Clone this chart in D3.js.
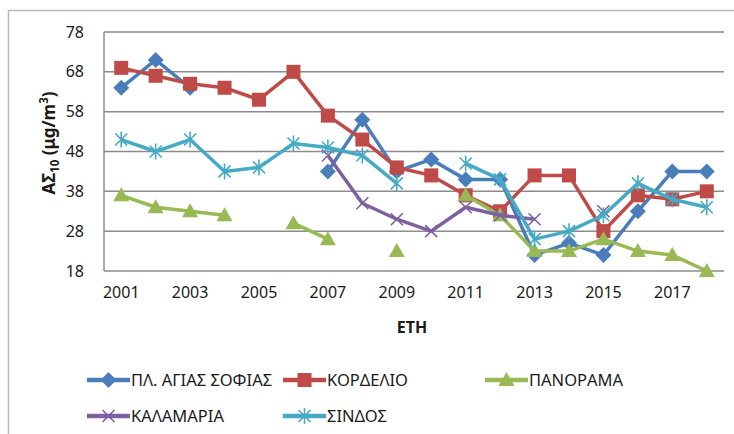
<!DOCTYPE html>
<html>
<head>
<meta charset="utf-8">
<title>ΑΣ10 ανά σταθμό</title>
<style>
body { margin: 0; background: #fff; }
#chart { width: 734px; height: 434px; }
text { font-family: "Noto Sans", "Open Sans", sans-serif; fill: #1a1a1a; }
.tick text { font-size: 16px; }
.legend text { font-size: 16.5px; }
</style>
</head>
<body>
<svg id="chart"></svg>
<script src="https://d3js.org/d3.v7.min.js"></script>
<script>

const years = d3.range(2001, 2019);
const yearLabels = [2001, 2003, 2005, 2007, 2009, 2011, 2013, 2015, 2017];
const yTicks = [18, 28, 38, 48, 58, 68, 78];

// τιμές ανά σταθμό (null = δεν υπάρχει μέτρηση)
const agiasSofias = [64, 71, 64, null, null, null, 43, 56, 43, 46, 41, 41, 22, 25, 22, 33, 43, 43];
const kordelio    = [69, 67, 65, 64, 61, 68, 57, 51, 44, 42, 37, 33, 42, 42, 28, 37, 36, 38];
const panorama    = [37, 34, 33, 32, null, 30, 26, null, 23, null, 37, 32, 23, 23, 26, 23, 22, 18];
const kalamaria   = [null, null, null, null, null, null, 47, 35, 31, 28, 34, 32, 31, null, 33, null, null, null];
const sindos      = [51, 48, 51, 43, 44, 50, 49, 47, 40, null, 45, 41, 26, 28, 32, 40, 36, 34];

const series = [
  { name: "ΠΛ. ΑΓΙΑΣ ΣΟΦΙΑΣ", values: agiasSofias, color: "#4a7ebb", marker: "diamond" },
  { name: "ΚΟΡΔΕΛΙΟ", values: kordelio, color: "#be4b48", marker: "square" },
  { name: "ΠΑΝΟΡΑΜΑ", values: panorama, color: "#98b954", marker: "triangle" },
  { name: "ΚΑΛΑΜΑΡΙΑ", values: kalamaria, color: "#7d60a0", marker: "x" },
  { name: "ΣΙΝΔΟΣ", values: sindos, color: "#46aac5", marker: "star" }
];

const plot = { left: 104, right: 724, top: 32, bottom: 271 };

const svg = d3.select("#chart");

// πλαίσιο γραφήματος
svg.append("rect")
  .attr("x", 8.5).attr("y", 10.5)
  .attr("width", 760).attr("height", 460)
  .attr("fill", "none")
  .attr("stroke", "#b8b8b8")
  .attr("stroke-width", 1.5);

const x = d3.scaleBand()
  .domain(years)
  .range([plot.left, plot.right]);
const cx = d => x(d) + x.bandwidth() / 2;

const y = d3.scaleLinear()
  .domain([18, 78])
  .range([plot.bottom, plot.top]);

// γραμμές πλέγματος
svg.append("g")
  .selectAll("line")
  .data(yTicks)
  .join("line")
  .attr("x1", plot.left).attr("x2", plot.right)
  .attr("y1", d => y(d)).attr("y2", d => y(d))
  .attr("stroke", "#8c8c8c")
  .attr("stroke-width", 1.5);

svg.append("line")
  .attr("x1", plot.left).attr("x2", plot.left)
  .attr("y1", plot.top).attr("y2", plot.bottom)
  .attr("stroke", "#8c8c8c")
  .attr("stroke-width", 1.5);

// άξονες
const yAxis = svg.append("g")
  .attr("transform", `translate(${plot.left},0)`)
  .call(d3.axisLeft(y).tickValues(yTicks).tickSize(0).tickPadding(20));
yAxis.select(".domain").remove();

const xAxis = svg.append("g")
  .attr("transform", `translate(0,${plot.bottom})`)
  .call(d3.axisBottom(x).tickValues(yearLabels).tickSize(0).tickPadding(16));
xAxis.select(".domain").remove();

svg.selectAll(".tick text").attr("fill", "#1a1a1a");

// τίτλοι αξόνων
svg.append("text")
  .attr("x", 412).attr("y", 333)
  .attr("text-anchor", "middle")
  .attr("font-size", 16).attr("font-weight", "bold")
  .text("ΕΤΗ");

const yLabel = svg.append("text")
  .attr("transform", "translate(55,143) rotate(-90)")
  .attr("text-anchor", "middle")
  .attr("font-size", 17).attr("font-weight", "bold");
yLabel.append("tspan").text("ΑΣ");
yLabel.append("tspan").attr("font-size", 11.5).attr("dy", 4).text("10");
yLabel.append("tspan").attr("dy", -4).text(" (μg/m");
yLabel.append("tspan").attr("font-size", 11.5).attr("dy", -7).text("3");
yLabel.append("tspan").attr("dy", 7).text(")");

// σύμβολα
function drawMarker(g, type, color, px, py) {
  if (type === "diamond") {
    g.append("path")
      .attr("d", `M${px},${py - 8}L${px + 8},${py}L${px},${py + 8}L${px - 8},${py}Z`)
      .attr("fill", color);
  } else if (type === "square") {
    g.append("rect")
      .attr("x", px - 7).attr("y", py - 7)
      .attr("width", 14).attr("height", 14)
      .attr("fill", color);
  } else if (type === "triangle") {
    g.append("path")
      .attr("d", `M${px},${py - 8}L${px + 8},${py + 6}L${px - 8},${py + 6}Z`)
      .attr("fill", color);
  } else if (type === "x") {
    g.append("path")
      .attr("d", `M${px - 6},${py - 6}L${px + 6},${py + 6}M${px + 6},${py - 6}L${px - 6},${py + 6}`)
      .attr("stroke", color).attr("stroke-width", 1.6);
  } else if (type === "star") {
    g.append("path")
      .attr("d", `M${px - 6},${py - 6}L${px + 6},${py + 6}M${px + 6},${py - 6}L${px - 6},${py + 6}M${px},${py - 8}L${px},${py + 8}`)
      .attr("stroke", color).attr("stroke-width", 1.6);
  }
}

const line = d3.line()
  .defined(d => d.v !== null)
  .x(d => cx(d.year))
  .y(d => y(d.v));

series.forEach(s => {
  const pts = years.map((yr, i) => ({ year: yr, v: s.values[i] }));
  const g = svg.append("g");
  g.append("path")
    .datum(pts)
    .attr("fill", "none")
    .attr("stroke", s.color)
    .attr("stroke-width", 3.5)
    .attr("stroke-linejoin", "round")
    .attr("d", line);
  pts.filter(d => d.v !== null).forEach(d => drawMarker(g, s.marker, s.color, cx(d.year), y(d.v)));
});

// υπόμνημα
const legendPos = [
  { x: 87, y: 380 }, { x: 283, y: 380 }, { x: 485, y: 380 },
  { x: 87, y: 416 }, { x: 283, y: 416 }
];
const legend = svg.append("g").attr("class", "legend");
series.forEach((s, i) => {
  const p = legendPos[i];
  const g = legend.append("g");
  g.append("line")
    .attr("x1", p.x).attr("x2", p.x + 43)
    .attr("y1", p.y).attr("y2", p.y)
    .attr("stroke", s.color).attr("stroke-width", 4.5);
  drawMarker(g, s.marker, s.color, p.x + 21.5, p.y);
  g.append("text")
    .attr("x", p.x + 44).attr("y", p.y + 6)
    .text(s.name);
});

</script>
</body>
</html>
